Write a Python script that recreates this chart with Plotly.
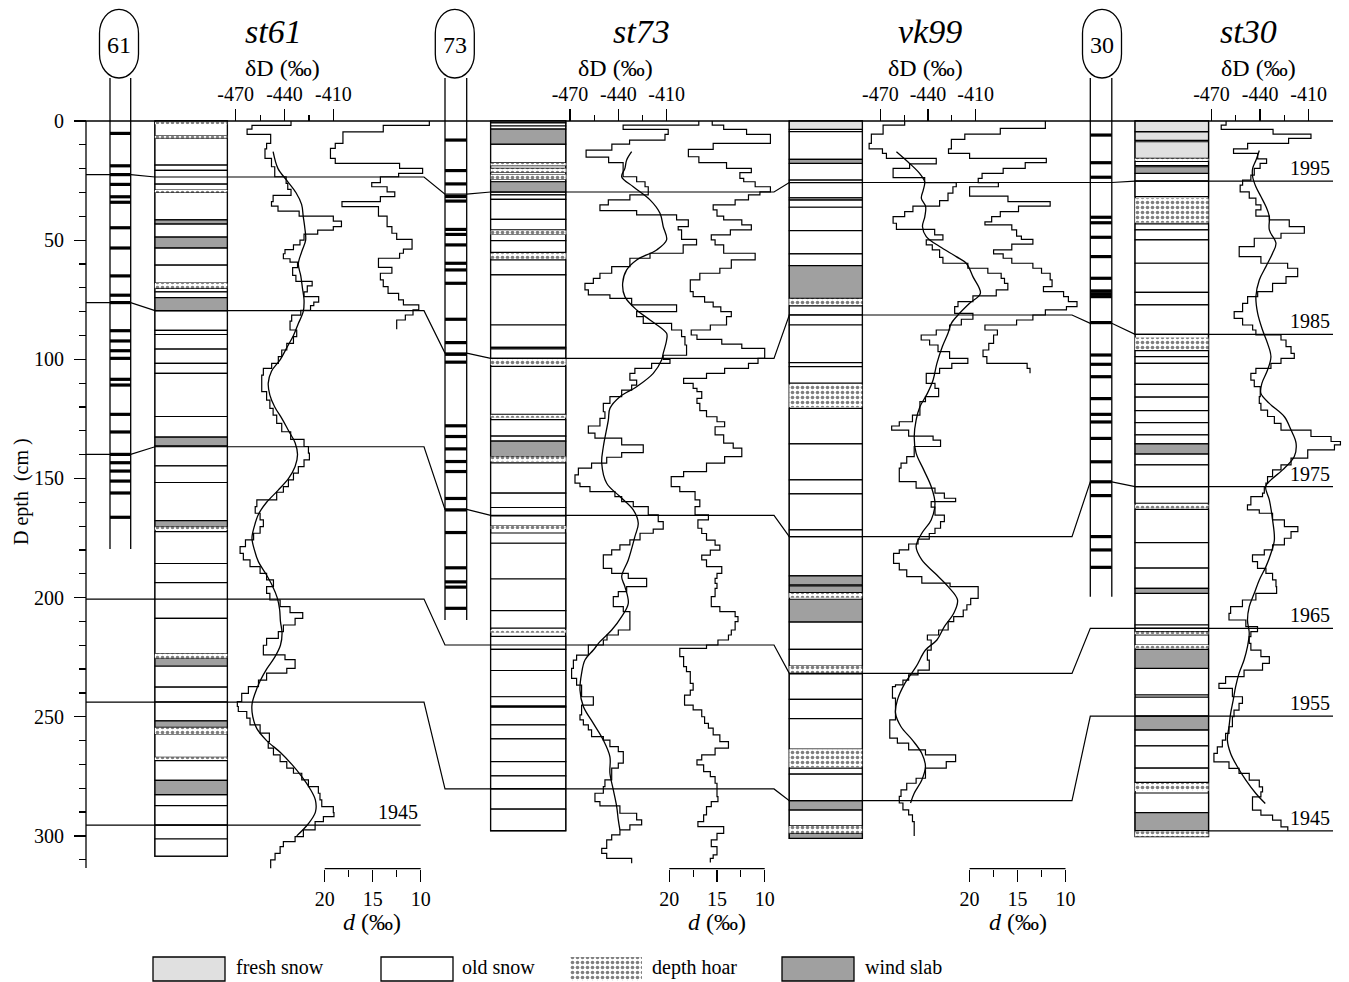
import plotly.graph_objects as go

W, H = 1349, 982
PY0, KY = 121.0, 2.383          # pixel row of depth 0 and pixels per cm
Y_TOP = -PY0 / KY
Y_BOT = (H - PY0) / KY
FONT = "Liberation Serif"

# ------------------------------------------------------------------ data
SITES = ["st61", "st73", "vk99", "st30"]
DD_TICKS = [-470, -440, -410]
DD_TICKTEXT = ["-470", "-440", "-410"]
DD_MINOR = [-455, -425]
D_TICKS = [20, 15, 10]
D_MINOR = [17.5, 12.5]
DEPTH_TICKS = [0, 50, 100, 150, 200, 250, 300]
DEPTH_MINOR = [10, 20, 30, 40, 60, 70, 80, 90, 110, 120, 130, 140, 160, 170, 180, 190,
               210, 220, 230, 240, 260, 270, 280, 290, 310]

# dated horizons: depth at st61 core, st61 strat, st73 core, st73 strat, vk99, st30 core, st30 strat
YEARS = ["1995", "1985", "1975", "1965", "1955"]
HORIZON_1995 = [22.5, 23.5, 30.7, 29.8, 25.8, 25.8, 25.2]
HORIZON_1985 = [76.2, 79.6, 97.4, 99.6, 81.4, 84.9, 89.5]
HORIZON_1975 = [139.9, 136.7, 163.0, 165.5, 174.4, 151.4, 153.4]
HORIZON_1965 = [200.6, 200.6, 219.9, 219.9, 231.8, 212.9, 212.9]
HORIZON_1955 = [243.9, 243.9, 280.3, 280.3, 285.2, 249.7, 249.7]
HORIZON_1945_ST61 = 295.5
HORIZON_1945_ST30 = 297.9

# core dark bands (cm)
ST61_CORE_BARS = [5.2, 18.8, 22.5, 26.6, 31.8, 34.1, 44.8, 53.3, 65, 73.1, 76.2, 88, 92.3, 96.4,
                  99.6, 108.4, 110.8, 123.1, 130.5, 139.9, 143.4, 146.9, 151.1, 156.1, 166.3]
ST73_CORE_BARS = [8, 20.8, 26.4, 31.7, 33.6, 45.5, 47.6, 52, 59.7, 62.5, 68.1, 83.2, 93, 97.9,
                  101.2, 127.9, 132.4, 137.6, 142.9, 147.1, 158.4, 163.2, 172.7, 187.5, 193.4,
                  195.6, 204.5]
ST30_CORE_BARS = [5.9, 17.5, 23.6, 40.4, 42.7, 48.8, 56.9, 66, 71.3, 72.5, 73.7, 84.6, 98.2,
                  102.1, 107.3, 116.5, 123.1, 126.3, 133.2, 143, 151.4, 157.2, 174.4, 180, 187.3]
CORE_LENGTH = {"st61": 179.6, "st73": 209.4, "st30": 199.6}

# stratigraphy: (top, bottom, type)  F fresh snow, O old snow, H depth hoar, W wind slab
ST61_LAYERS = [(0, 6.2, "O"), (0.4, 1.4, "H"), (6.2, 7.2, "H"), (7.2, 18.5, "O"), (18.5, 20.7, "O"),
               (20.7, 26.5, "O"), (26.5, 29.0, "O"), (29.0, 30.0, "H"), (30.0, 41.5, "O"),
               (41.5, 43.2, "W"), (43.2, 48.7, "O"), (48.7, 53.2, "W"), (53.2, 60.5, "O"),
               (60.5, 68.0, "O"), (68.0, 70.2, "H"), (70.2, 71.7, "O"), (71.7, 74.1, "O"),
               (74.1, 79.6, "W"), (79.6, 87.9, "O"), (87.9, 89.6, "O"), (89.6, 95.7, "O"),
               (95.7, 101.7, "O"), (101.7, 105.9, "O"), (105.9, 124.0, "O"), (124.0, 132.7, "O"),
               (132.7, 136.3, "W"), (136.3, 144.7, "O"), (144.7, 151.7, "O"), (151.7, 167.7, "O"),
               (167.7, 170.3, "W"), (170.3, 171.5, "H"), (172.3, 185.7, "O"), (185.7, 193.7, "O"),
               (193.7, 208.7, "O"), (208.7, 223.6, "O"), (223.6, 225.4, "H"), (225.4, 228.7, "W"),
               (228.7, 237.6, "O"), (237.6, 243.8, "O"), (243.8, 251.7, "O"), (251.7, 254.4, "W"),
               (254.6, 257.2, "H"), (257.2, 267.0, "O"), (267.0, 268.2, "H"), (268.4, 276.7, "O"),
               (276.7, 282.7, "W"), (282.7, 287.3, "O"), (287.3, 295.5, "O"), (295.5, 301.3, "O"),
               (301.3, 308.5, "O")]
ST73_LAYERS = [(0, 0.8, "O"), (0.8, 2.1, "O"), (2.1, 3.4, "O"), (3.4, 9.7, "W"), (9.7, 17.6, "O"),
               (17.6, 18.7, "H"), (18.7, 19.9, "O"), (19.9, 21.5, "H"), (21.5, 22.5, "O"),
               (22.5, 24.4, "H"), (24.4, 25.5, "O"), (25.5, 29.8, "W"), (29.8, 31.0, "O"),
               (31.0, 32.9, "O"), (32.9, 41.3, "O"), (41.3, 45.7, "O"), (45.9, 47.6, "H"),
               (47.6, 50.2, "O"), (50.2, 55.1, "O"), (55.5, 57.8, "H"), (58.3, 64.6, "O"),
               (64.6, 85.6, "O"), (85.6, 95.0, "O"), (95.0, 95.6, "O"), (95.6, 99.6, "O"),
               (99.6, 102.4, "H"), (103.0, 123.1, "O"), (123.3, 124.5, "H"), (125.3, 132.2, "O"),
               (132.2, 134.3, "O"), (134.3, 140.8, "W"), (140.8, 142.9, "H"), (143.5, 156.2, "O"),
               (156.2, 162.2, "O"), (162.2, 165.7, "O"), (165.7, 170.0, "O"), (170.0, 171.2, "H"),
               (172.9, 177.2, "O"), (177.2, 192.2, "O"), (192.2, 205.5, "O"), (205.5, 212.8, "O"),
               (213.6, 214.8, "H"), (216.3, 221.7, "O"), (221.7, 230.6, "O"), (230.6, 241.6, "O"),
               (241.6, 245.5, "O"), (245.5, 246.0, "O"), (246.0, 253.4, "O"), (253.4, 259.3, "O"),
               (259.3, 268.8, "O"), (268.8, 274.8, "O"), (274.8, 280.3, "O"), (280.3, 288.8, "O"),
               (288.8, 297.8, "O")]
VK99_LAYERS = [(0, 3.5, "F"), (3.5, 4.5, "O"), (4.5, 16.1, "O"), (16.1, 17.8, "W"), (17.8, 24.8, "O"),
               (24.8, 25.9, "O"), (25.9, 32.2, "O"), (32.2, 33.1, "W"), (33.1, 36.2, "O"),
               (36.2, 46.0, "O"), (46.0, 55.8, "O"), (55.8, 60.7, "O"), (60.7, 74.4, "W"),
               (74.6, 77.2, "H"), (77.6, 81.4, "O"), (81.4, 85.6, "O"), (85.6, 101.4, "O"),
               (101.4, 103.1, "O"), (103.1, 110.0, "O"), (110.6, 120.1, "H"), (120.6, 135.5, "O"),
               (135.5, 150.6, "O"), (150.6, 156.5, "O"), (156.5, 171.6, "O"), (171.6, 174.4, "O"),
               (174.4, 190.9, "O"), (190.9, 194.7, "W"), (195.1, 197.9, "W"), (198.1, 200.1, "H"),
               (200.7, 210.2, "W"), (210.2, 221.7, "O"), (221.7, 228.7, "O"), (228.7, 231.8, "H"),
               (232.0, 242.7, "O"), (242.7, 250.8, "O"), (250.8, 263.6, "O"), (263.6, 271.2, "H"),
               (271.6, 274.1, "O"), (274.1, 285.2, "O"), (285.2, 289.1, "W"), (289.1, 295.8, "O"),
               (295.8, 298.9, "H"), (298.9, 301.0, "W")]
ST30_LAYERS = [(0, 4.5, "F"), (4.6, 8.1, "F"), (8.7, 15.7, "F"), (15.7, 16.6, "H"), (17.0, 18.7, "O"),
               (19.2, 22.0, "W"), (22.0, 25.2, "O"), (25.2, 31.7, "O"), (32.4, 42.7, "H"),
               (43.2, 45.7, "O"), (45.7, 49.9, "O"), (49.9, 59.7, "O"), (59.7, 71.9, "O"),
               (71.9, 77.2, "O"), (77.2, 89.5, "O"), (90.8, 96.1, "H"), (96.4, 98.9, "O"),
               (98.9, 101.7, "O"), (101.7, 110.5, "O"), (110.5, 115.9, "O"), (115.9, 121.5, "O"),
               (121.5, 126.6, "O"), (126.6, 131.7, "O"), (131.7, 135.5, "O"), (135.5, 139.7, "W"),
               (139.7, 144.3, "O"), (144.3, 153.4, "O"), (153.4, 160.4, "O"), (161.0, 162.5, "H"),
               (163.0, 176.9, "O"), (176.9, 187.6, "O"), (187.6, 196.1, "O"), (196.1, 198.2, "W"),
               (198.2, 211.5, "O"), (211.5, 212.9, "O"), (212.9, 214.3, "O"), (214.3, 215.4, "H"),
               (215.7, 219.9, "O"), (219.9, 221.3, "H"), (221.7, 229.7, "W"), (229.7, 240.8, "O"),
               (241.8, 249.7, "O"), (249.7, 255.5, "W"), (255.5, 262.2, "O"), (262.2, 271.6, "O"),
               (271.6, 277.5, "O"), (277.8, 281.2, "H"), (282.0, 290.2, "O"), (290.2, 297.8, "W"),
               (298.2, 300.3, "H")]
COLUMN_BOTTOM = {"st61": 308.5, "st73": 297.8, "vk99": 301.0, "st30": 300.3}

# deltaD step profiles: (top depth cm, value permil)
ST61_DD = [(0, -436), (1.8, -460), (3.4, -463), (5.6, -448.5), (9.4, -451), (11.7, -452), (15.7, -448),
           (19.2, -446), (23.4, -439), (26.2, -438), (28.7, -436), (31.2, -447), (33.8, -448),
           (35.7, -444), (37.8, -431), (39.9, -410), (42, -405), (44.3, -410), (45.8, -419.6),
           (47.5, -428), (50, -430.5), (52, -434.5), (54, -439.7), (55.7, -440.7), (57.8, -436.6),
           (59.2, -432), (61.5, -435), (64.8, -433), (67.3, -423), (69.2, -426), (71.7, -428),
           (73.7, -419), (76, -422), (77.5, -424), (79.5, -430), (81.5, -435.6), (84, -436.6),
           (87.7, -432.5), (90.5, -434.5), (93.3, -438.6), (96.1, -441.7), (98.9, -443.8),
           (101.7, -447.9), (103.8, -453), (106.6, -454), (110.1, -454), (113.6, -451), (117.1, -449),
           (120.6, -447), (123.4, -444.8), (126.9, -441.7), (130.4, -436.2), (133.6, -428),
           (136.6, -425.3), (139.4, -424.7), (142.2, -428), (145, -431.5), (147.8, -434.5),
           (150.6, -437.6), (153.4, -440.7), (155.8, -444.8), (159, -457), (161.8, -458),
           (164.6, -455), (167.4, -453), (170.2, -455), (173, -459), (175.8, -464), (178.6, -467.3),
           (181.4, -465.3), (184.2, -461.2), (187, -455), (189.8, -451), (192.6, -446.8),
           (195.4, -451), (198.2, -449), (201, -442.7), (203.8, -436.6), (206.3, -428.8),
           (208.7, -433.5), (211.5, -440.7), (214.3, -443.8), (217.1, -451), (220, -453),
           (224, -439.7), (226, -433.5), (229.7, -438.6), (231.7, -451), (234.6, -456),
           (237.4, -462.2), (240.2, -466.3), (243.6, -469), (245.7, -468.4), (247.8, -463.2),
           (250.6, -461.2), (253.4, -455), (256.9, -449.3), (260.4, -450), (263.2, -446.8),
           (266, -442.7), (268.8, -438.6), (271.6, -434.5), (273.7, -429.4), (276.5, -425.3),
           (279.3, -419.2), (282.1, -418.2), (284.9, -417.1), (287.7, -410), (290.2, -409.6),
           (291.9, -416.1), (294, -421.2), (297.5, -428.4), (300.3, -433.5), (302.4, -440.7),
           (304.5, -442.7), (307.3, -445.8), (310.1, -448.5)]
ST61_DD_END = 313.6
ST73_DD = [(0, -390), (1.7, -437), (3.5, -409), (5.6, -411), (8, -433), (9.7, -444), (12.2, -460),
           (15.2, -446), (17.5, -437), (23.4, -428.6), (25.5, -423.4), (27.6, -421.4), (31, -432.8),
           (33.1, -446.2), (35.2, -451.4), (37.6, -428.6), (39.4, -403.8), (41.5, -396.5),
           (44.3, -402.8), (45.7, -400.7), (49.7, -391.4), (52, -399.7), (55.5, -420.3),
           (57.6, -432.8), (61.1, -444.1), (63.9, -451.4), (66, -455.5), (68.1, -460.7),
           (70.9, -458.6), (73, -445.2), (74.4, -431.7), (77.2, -403.8), (80, -428.6),
           (82.1, -424.5), (84.9, -406.9), (87.7, -400.7), (90.5, -398.6), (94, -397.6),
           (98.3, -412.1), (100, -407.9), (101.7, -419.3), (103.8, -429.7), (105.9, -432.8),
           (108.7, -428.6), (110.8, -431.7), (112.9, -437.9), (115.7, -445.2), (118.5, -449.3),
           (122, -448.3), (124.8, -451.4), (128, -458.6), (131, -454.5), (133.1, -437.9),
           (135.9, -424.5), (139.2, -437.9), (141.1, -447.2), (143.6, -456.6), (145.7, -464.8),
           (148.5, -466.9), (152, -463.8), (153.4, -457.6), (155.5, -442.1), (157.6, -437.9),
           (159.7, -430.7), (161.8, -421.4), (165.3, -415.2), (168.1, -412.1), (171.3, -418.3),
           (173, -426.5), (175.8, -432.8), (177.9, -439), (180, -444.1), (182.1, -449.3),
           (187.7, -444.1), (189.8, -433.8), (191.9, -422.4), (195.4, -434.8), (197.5, -440),
           (199.6, -443.1), (203.8, -436.9), (205.9, -432.8), (213.6, -440), (215.7, -447),
           (217.8, -449.3), (219.9, -458.6), (224.1, -465.9), (226.2, -467.9), (229.7, -469),
           (233.9, -465.9), (236.7, -462.8), (241.6, -455.5), (245.1, -462.8), (249.2, -463.8),
           (251.3, -461.7), (253.4, -458.6), (255.5, -456.6), (258.3, -449.3), (259.8, -445.2),
           (262.5, -440), (264.6, -436.9), (269.5, -440), (271.6, -444.1), (276.5, -448.3),
           (279.3, -449.3), (282.1, -454.5), (285.6, -451.4), (287.4, -439), (290.5, -428.6),
           (293.3, -425.5), (295.4, -432.8), (297.5, -439), (299.6, -444.1), (301.7, -447.2),
           (305.2, -450.3), (307.3, -447.2), (309.4, -431.7)]
ST73_DD_END = 311.5
VK99_DD = [(0, -454.7), (1.7, -468.3), (5.5, -475.7), (9.4, -477.1), (11.7, -468.7), (13.6, -466.2),
           (15.7, -434.8), (18, -451.6), (19.9, -462), (23.8, -442.1), (25.9, -422.2), (27.6, -424.3),
           (30.3, -427.4), (33.4, -432.7), (35.7, -449.5), (38, -454.7), (40.1, -462), (42.9, -459.9),
           (45.5, -435.8), (47.8, -430.6), (49.9, -441.1), (52, -437.3), (54.1, -432.7),
           (57.2, -430.6), (59.7, -414.9), (61.8, -402.3), (63.9, -393.9), (66, -391.8),
           (68.1, -389.7), (70.9, -397), (73.4, -411.7), (75.8, -421.1), (77.9, -423.2),
           (80.7, -411.7), (83.2, -419), (85.6, -426.4), (87.7, -434.8), (89.8, -444.3),
           (91.9, -439), (94, -433.7), (96.8, -426.4), (99.6, -414.9), (101.7, -425),
           (103.8, -432.7), (105.9, -441.1), (110.1, -435.6), (112.2, -433.3), (115.7, -441.6),
           (117.8, -445.1), (123.4, -449.8), (126.2, -458.1), (128, -462.9), (129.7, -452.2),
           (132.2, -436.8), (133.9, -432.1), (136.6, -448.7), (140.8, -453.4), (143.6, -457),
           (145.7, -458.1), (151.3, -447.5), (154.1, -435.6), (156.2, -429.7), (158.3, -422.6),
           (159.7, -438), (162, -435.6), (165.4, -429.7), (168.1, -432.1), (170.9, -435.6),
           (173.1, -439.2), (175.5, -446.3), (177.5, -452.2), (180, -458.1), (181.4, -461.7),
           (185.6, -458.1), (188.4, -453.4), (191.2, -443.9), (193.9, -426.1), (195.4, -408.4),
           (200.3, -413.1), (203, -415.5), (205.2, -417.8), (208, -423.8), (210.1, -427.3),
           (213.6, -433.3), (215.7, -440.4), (217.8, -438), (222, -440.4), (226.2, -439.2),
           (230.4, -446.3), (232.4, -452.2), (234.6, -455.8), (236.6, -460.5), (237.4, -462.4),
           (242.2, -460.5), (251.3, -464.1), (259, -459.3), (261.1, -452.2), (263.9, -441.6),
           (266, -422.6), (268.8, -428.5), (271.6, -441.6), (275.8, -447.5), (277.9, -453.4),
           (280.7, -457), (283.4, -458.1), (286.2, -455.8), (289.1, -452.2), (291.2, -449.8),
           (294, -448.7)]
VK99_DD_END = 300.0
ST30_DD = [(0, -461), (1.7, -464), (3.5, -432), (5.5, -408.6), (7.3, -422.4), (9.4, -447.7),
           (11.7, -456.4), (13.6, -441.5), (15.9, -436), (17.8, -440), (19.9, -443.6), (22.7, -445.7),
           (24.8, -450.8), (26.9, -452.3), (29.7, -446.7), (32.4, -442.6), (35.2, -439.5),
           (37.3, -442.6), (39.9, -434.3), (41.5, -422), (44.3, -412.7), (47.1, -427.1),
           (49.2, -443.6), (52.7, -452.9), (56.9, -439.5), (59.7, -423), (61.8, -416.8),
           (65.3, -424), (68.1, -432.3), (71.6, -441.5), (73.7, -447.7), (76.5, -450.8), (80, -456),
           (82.8, -450.8), (85.6, -444.6), (87.7, -442.6), (89.8, -427.1), (91.9, -424),
           (94.7, -420.9), (97.5, -418.9), (99.6, -427.1), (101.7, -433.3), (103.8, -442.6),
           (105.9, -445.7), (108.7, -443.6), (111.5, -439.9), (115.7, -440.5), (118.5, -439.5),
           (121.3, -435.4), (124, -431.2), (126.9, -427.1), (129.7, -408.6), (132.4, -396.2),
           (134.5, -390.4), (135.9, -394.1), (138, -410.6), (141.5, -420.9), (144.3, -427.1),
           (146.4, -432.3), (149.2, -435.4), (152, -436.4), (153.4, -437.4), (156.2, -438.5),
           (157.6, -445.7), (161.1, -447.8), (163.2, -440.5), (164.6, -432.3), (167.4, -425),
           (170.2, -416.7), (172.3, -420.9), (175.1, -425), (177.9, -432.3), (180, -437.4),
           (182.1, -444.7), (184.9, -441.6), (187.7, -436.4), (189.8, -432.3), (192.6, -430.2),
           (195.4, -429.8), (198.2, -442.6), (201, -450.9), (203.8, -458.2), (206.6, -459.2),
           (209.4, -448.8), (212.2, -441.6), (214.3, -445.7), (216.4, -446.7), (219.2, -445.7),
           (222, -439.5), (224.8, -434.3), (227.6, -438.5), (230.4, -449.9), (233.2, -461.3),
           (236, -465.4), (238.1, -457.1), (241.6, -450.9), (244.4, -453), (247.2, -456.1),
           (250, -457.1), (254.2, -459.2), (257, -461.3), (259.8, -463.3), (262.6, -466.4),
           (265.4, -468.5), (268.9, -459.2), (271.7, -453), (273.8, -446.7), (276.6, -440.5),
           (279.4, -438.5), (281.5, -439.5), (283.6, -444.7), (289.2, -439.5), (291.3, -432.3),
           (293.4, -427.1), (296.2, -422.9)]
ST30_DD_END = 297.8

# smoothed deltaD curves: (depth cm, value permil)
ST61_SMOOTH = [(12.9, -447), (20, -444), (25, -438.5), (30, -433), (35, -429.5), (40, -428.5),
               (45, -427.5), (50, -427), (55, -429.5), (60, -431.5), (65, -430), (70, -429),
               (75, -428), (80, -428.5), (85, -431.5), (90, -434.5), (95, -438.5), (100, -442.5),
               (105, -448), (110, -450), (115, -449), (120, -446), (125, -441.5), (130, -437.5),
               (135, -433.5), (140, -432), (145, -433.5), (150, -437.5), (155, -444), (160, -451),
               (165, -456), (170, -458.5), (175, -460), (180, -458.5), (185, -456), (190, -451.5),
               (195, -447.5), (200, -444.5), (205, -443), (210, -442.5), (215, -441.5),
               (220, -442.5), (225, -446), (230, -451), (235, -455), (240, -458), (245, -460),
               (250, -459.5), (255, -457), (260, -451), (265, -442.5), (270, -435.5),
               (275, -429.5), (280, -424.5), (285, -421), (290, -421), (295, -425.5), (300, -432.5)]
ST73_SMOOTH = [(12.9, -431.7), (16.4, -434.8), (19.9, -435.9), (23.4, -437.9), (27.6, -430.7),
               (33.1, -420.3), (38.7, -414.1), (44.3, -412.1), (49.9, -410), (54.1, -416.2),
               (58.3, -428.6), (62.5, -434.8), (68.1, -437.3), (73.7, -435.9), (79.3, -428.6),
               (83.5, -420.3), (89.1, -410), (91.9, -410), (97.5, -412.1), (100.3, -413.1),
               (105.9, -418.3), (111.5, -428.6), (115.7, -439), (120.6, -445.2), (125.5, -446.2),
               (136.7, -449.3), (143.6, -450.3), (152, -447.2), (157.6, -439), (163.2, -430.7),
               (168.8, -427.6), (174.4, -429.7), (184.2, -433.8), (191.2, -437.9), (195.4, -435.9),
               (202.4, -433.8), (208, -437.9), (213.6, -444.1), (218.5, -451.4), (222, -455.5),
               (226.2, -460.7), (231.8, -462.8), (238.8, -463.8), (245.7, -461.7), (252.8, -455.5),
               (259.8, -449.3), (266.8, -445.2), (273.7, -445.2), (280.7, -443.1), (287.7, -441),
               (293.3, -440), (297.5, -439)]
VK99_SMOOTH = [(12.9, -459.9), (17.8, -451.6), (22, -445.3), (25.5, -442.1), (29, -443), (32.4, -444.2),
               (35.9, -441.5), (40.1, -442), (44.3, -443.5), (48.5, -441.1), (52.7, -432.7),
               (56.9, -422.2), (59.7, -415.9), (65.3, -411.7), (72.3, -407), (76.5, -413.8),
               (80.7, -420.1), (84.9, -425.3), (89.1, -427.4), (94.7, -431), (101.7, -434.4),
               (108.7, -436.8), (114.3, -440.4), (119.9, -445.1), (125.5, -447.5), (132.5, -448.7),
               (139.4, -447.5), (146.4, -442.7), (153.4, -438), (160.4, -435.6), (167.4, -438),
               (173, -443.9), (178.6, -447.5), (184.2, -443.9), (189.8, -435.6), (195.4, -427.3),
               (201, -421.4), (206.6, -423.8), (212.2, -429.7), (217.8, -434.4), (222, -441.6),
               (229, -447.5), (236, -454.6), (243, -459.3), (248.5, -460.5), (254.2, -457),
               (259.8, -449.8), (265.4, -443.9), (270.9, -441.6), (276.5, -443.9), (282.1, -448.7),
               (286.2, -451)]
ST30_SMOOTH = [(12.4, -440.5), (16.4, -442.5), (19.9, -444.6), (23.4, -444.6), (27.6, -442.6),
               (31.7, -439.5), (35.9, -436.4), (40.1, -434.3), (45.7, -434.3), (51.3, -430.2),
               (55.5, -432.3), (61.1, -436.4), (66.7, -440.5), (73.7, -442.6), (80.7, -441.5),
               (87.7, -438.5), (93.3, -435.4), (98.9, -433.3), (104.5, -435.4), (110.1, -438.9),
               (114.3, -439.5), (118.5, -434.3), (124.1, -425), (129.7, -420.9), (135.2, -417.8),
               (140.8, -418.9), (146.4, -426.1), (150.6, -433.3), (153.4, -436.6), (159, -434.3),
               (167.4, -432.3), (175.8, -431.2), (181.4, -433.3), (187, -436.4), (192.6, -440.5),
               (198.2, -443.6), (203.8, -446.7), (209.4, -447.8), (215, -446.7), (220.6, -447.8),
               (226.2, -449.9), (231.8, -453), (237.4, -455.1), (243, -456.6), (248.6, -458.2),
               (254.2, -459.2), (259.8, -460.2), (265.4, -458.2), (271, -454), (276.6, -448.8),
               (282.2, -442.6), (286.4, -436.8)]

# deuterium excess step profiles: (top depth cm, value permil)
ST61_D = [(0, 9.1), (1.8, 13.9), (4.6, 18.1), (9.4, 18.9), (11.5, 19.4), (15.7, 18.9), (17.8, 12.2),
          (19.9, 9.8), (22, 12.3), (23.4, 14.2), (25.9, 15.1), (27.6, 13.5), (29.7, 12.7),
          (31.7, 14.2), (33.8, 18.2), (35.9, 14.4), (39.9, 13.5), (44.3, 13), (47.1, 12.5),
          (49.7, 10.9), (53.8, 11.8), (55.5, 12.2), (57.6, 14.4), (61.4, 13), (63.9, 14.2),
          (66.7, 13.9), (69.5, 13.4), (72.3, 12.3), (75.1, 11.8), (77.2, 10.2), (79.3, 10.8),
          (81.4, 11.6), (83.5, 12.5)]
ST61_D_END = 87.4
ST73_D = [(0, 15.5), (1.7, 14.3), (3.5, 11.9), (5.6, 9.4), (9.4, 15.4), (11.9, 18), (15, 16.9),
          (17.5, 14), (19.9, 11.4), (21.7, 12.6), (24.1, 12.2), (25.5, 11), (27.6, 9.4), (29.7, 10.5),
          (31, 11.7), (33.1, 13.1), (35.2, 15.4), (37.3, 15), (39.9, 14.3), (41.5, 12.4),
          (43.6, 11.4), (45.7, 13.6), (47.8, 15.6), (49.9, 15.2), (52, 14.3), (55.5, 11),
          (58.3, 13.5), (61.8, 14.7), (63.9, 16.8), (66.7, 17.8), (71.6, 17.5), (73.7, 16.3),
          (76, 15.4), (78, 14.6), (80, 13.5), (82.1, 14), (85.6, 15.7), (87.7, 17.7), (89.8, 17.1),
          (91.6, 14.5), (93.6, 12.4), (95.4, 10), (99.6, 10.7), (101.7, 11.7), (103.8, 14.2),
          (105.9, 16.1), (108, 18.5), (110.1, 17.5), (112.2, 17.1), (113.6, 16.6), (116.4, 17.1),
          (118.5, 16.8), (121.5, 16.1), (124.1, 15), (126.2, 14.2), (128.3, 15.2), (131.7, 14.3),
          (135.2, 13.3), (137.3, 12.4), (140.8, 14.2), (143.6, 16.1), (147.1, 18.5), (149.2, 19.8),
          (153.4, 18.9), (155.5, 17.3), (159, 16.8), (161.8, 17.3), (165.3, 15.9), (167.4, 17),
          (170.9, 16.6), (173.1, 16.1), (175.9, 15.2), (178, 14.7), (180.1, 15.7), (182.2, 16.6),
          (184.2, 16.1), (187, 14.5), (189.8, 15), (191.9, 15.2), (194, 15), (196.1, 15.2),
          (199.6, 15.6), (203.8, 14.7), (205.9, 13.1), (208, 12.8), (210.1, 13.1), (213.6, 13.5),
          (215.7, 13.8), (217.8, 14.9), (219.9, 16.1), (221.3, 18.9), (224.8, 18.5), (229, 18.2),
          (231.1, 17.8), (236, 17.5), (238.8, 17.8), (240.9, 18.4), (245.1, 17.5), (247.1, 16.6),
          (250, 16.3), (252.8, 15.9), (254.8, 15.4), (257.6, 14.7), (260.4, 13.8), (263.2, 15.2),
          (266, 16.6), (268.1, 17.1), (270.2, 16.4), (273, 15.7), (275.1, 15.2), (277.9, 15),
          (283.5, 14.9), (285.6, 15.6), (287.7, 16.1), (291.2, 16.4), (294, 17), (296.1, 14.3),
          (298.9, 15), (301.7, 15.6), (304.5, 15), (308, 15.4), (309.4, 15.7)]
ST73_D_END = 311.2
VK99_D = [(0, 12.1), (3.1, 16.8), (5.5, 20.5), (7.7, 21.9), (11.7, 22.2), (13.6, 20), (15.7, 12),
          (17.5, 14.2), (19.9, 16.5), (22, 18.7), (24.1, 19.1), (25.9, 17), (27.6, 20), (31.5, 16),
          (33.8, 11.6), (35.7, 14.9), (38, 16.8), (40.1, 17.7), (42.3, 18.4), (43.6, 15.6),
          (45.7, 15.1), (48.3, 14.6), (49.7, 13.4), (51.7, 15.6), (54.1, 17.5), (55.8, 16.5),
          (57.6, 15.6), (59.7, 13.4), (61.8, 12.5), (63.9, 11.6), (66.7, 11.4), (69.5, 12.3),
          (71.6, 10.2), (73.7, 9.7), (75.8, 8.8), (77.9, 9.9), (79.3, 12.1), (81.4, 13.4),
          (83.5, 15.1), (85.6, 18.4), (87.7, 17.1), (89.8, 17.5), (93.3, 18), (96.1, 18.6),
          (98.9, 18.2), (101.7, 14), (103.8, 13.7)]
VK99_D_END = 105.9

LEGEND_LABELS = ["fresh snow", "old snow", "depth hoar", "wind slab"]
LEGEND_TYPES = ["F", "O", "H", "W"]

# ------------------------------------------------------------------ layout constants (pixels)
XA = 86
COL = {  # core left/right, strat left/right
    "st61": dict(cl=110, cr=130.7, sl=155, sr=227.3, cap=119),
    "st73": dict(cl=445, cr=466.7, sl=490.7, sr=565.7, cap=454.8),
    "vk99": dict(sl=789.3, sr=862.3),
    "st30": dict(cl=1090.3, cr=1111.8, sl=1135.1, sr=1208.5, cap=1102),
}
T1, T2, T3, XEND = 424, 774, 1072, 1333
DD_AX = {"st61": (235.7, 1.627), "st73": (570.0, 1.61), "vk99": (880.4, 1.587), "st30": (1211.5, 1.62)}
D_AX = {"st61": (324.7, 9.6), "st73": (669.3, 9.54), "vk99": (969.6, 9.59)}
FILL = {"F": "#e0e0e0", "O": "white", "W": "#a0a0a0", "H": "white"}
LEGEND_X = [153, 381, 570, 782]
LEGEND_TX = [234, 460, 650, 863]


def pap(py):
    return 1 - py / H


fig = go.Figure()
layout = dict(
    width=W, height=H, margin=dict(l=0, r=0, t=0, b=0),
    paper_bgcolor="white", plot_bgcolor="white", showlegend=False, barmode="overlay",
    font=dict(family=FONT, color="black"),
    xaxis=dict(range=[0, W], visible=False, fixedrange=True),
    yaxis=dict(range=[Y_BOT, Y_TOP], anchor="free", position=XA / W, side="left",
               showgrid=False, zeroline=False, showline=False,
               tickmode="array", tickvals=DEPTH_TICKS, ticks="outside", ticklen=12,
               tickwidth=1.2, tickcolor="black", ticklabelstandoff=6,
               tickfont=dict(family=FONT, size=20, color="black"),
               minor=dict(tickvals=DEPTH_MINOR, ticks="outside", ticklen=7, tickwidth=1.2,
                          tickcolor="black")),
)

axis_of_dd, axis_of_d = {}, {}
n = 2
for s in SITES:
    p, k = DD_AX[s]
    name = f"x{n}"
    axis_of_dd[s] = name
    layout[f"xaxis{n}"] = dict(
        range=[-470 - p / k, -470 + (W - p) / k], overlaying="x", anchor="free",
        position=pap(PY0), side="top", showgrid=False, zeroline=False, showline=False,
        tickmode="array", tickvals=DD_TICKS, ticktext=DD_TICKTEXT, ticks="outside", ticklen=12,
        tickwidth=1.2, tickcolor="black", tickfont=dict(family=FONT, size=20, color="black"),
        minor=dict(tickvals=DD_MINOR, ticks="outside", ticklen=6, tickwidth=1.2, tickcolor="black"))
    n += 1
D_AXIS_PY = 868.7
for s in ["st61", "st73", "vk99"]:
    p, k = D_AX[s]
    name = f"x{n}"
    axis_of_d[s] = name
    layout[f"xaxis{n}"] = dict(
        range=[20 + p / k, 20 - (W - p) / k], overlaying="x", anchor="free",
        position=pap(D_AXIS_PY), side="bottom", showgrid=False, zeroline=False, showline=False,
        tickmode="array", tickvals=D_TICKS, ticks="outside", ticklen=12, tickwidth=1.2,
        tickcolor="black", tickfont=dict(family=FONT, size=20, color="black"),
        minor=dict(tickvals=D_MINOR, ticks="outside", ticklen=7, tickwidth=1.2, tickcolor="black"))
    n += 1

# ------------------------------------------------------------------ stratigraphy columns (bars)
def add_bars(lefts, rights, tops, bots, color, border, pattern=None):
    if not tops:
        return
    marker = dict(color=color, line=dict(color="black", width=border))
    if pattern:
        marker["pattern"] = dict(shape=".", fgcolor="black", bgcolor="white", size=5, solidity=0.42)
    fig.add_trace(go.Bar(
        orientation="h", y=[(a + b) / 2 for a, b in zip(tops, bots)],
        width=[b - a for a, b in zip(tops, bots)], base=lefts,
        x=[r - l for l, r in zip(lefts, rights)], marker=marker, hoverinfo="skip",
        xaxis="x", yaxis="y"))


STRAT = {"st61": ST61_LAYERS, "st73": ST73_LAYERS, "vk99": VK99_LAYERS, "st30": ST30_LAYERS}
for s in SITES:
    c = COL[s]
    add_bars([c["sl"]], [c["sr"]], [0], [COLUMN_BOTTOM[s]], "white", 1.5)
for t in ["O", "F", "W", "H"]:
    L, R, T, B = [], [], [], []
    for s in SITES:
        c = COL[s]
        for (a, b, typ) in STRAT[s]:
            if typ == t:
                L.append(c["sl"]); R.append(c["sr"]); T.append(a); B.append(b)
    add_bars(L, R, T, B, FILL[t], 0 if t == "H" else 1.2, pattern=(t == "H"))

# legend boxes
LEG_TOP = (957 - PY0) / KY
LEG_BOT = (981 - PY0) / KY
for x0, t in zip(LEGEND_X, LEGEND_TYPES):
    add_bars([x0], [x0 + 72], [LEG_TOP], [LEG_BOT], FILL[t], 0 if t == "H" else 1.3,
             pattern=(t == "H"))

# ------------------------------------------------------------------ cores
CORE_BARS = {"st61": ST61_CORE_BARS, "st73": ST73_CORE_BARS, "st30": ST30_CORE_BARS}
CORE_TOP = (78 - PY0) / KY
for s in ["st61", "st73", "st30"]:
    c = COL[s]
    fig.add_trace(go.Scatter(
        x=[c["cl"], c["cl"], None, c["cr"], c["cr"]],
        y=[CORE_TOP, CORE_LENGTH[s], None, CORE_TOP, CORE_LENGTH[s]],
        mode="lines", line=dict(color="black", width=1.3), hoverinfo="skip"))
    xs, ys = [], []
    for d in CORE_BARS[s]:
        xs += [c["cl"], c["cr"], None]
        ys += [d, d, None]
    fig.add_trace(go.Scatter(x=xs, y=ys, mode="lines", line=dict(color="black", width=3.2),
                             hoverinfo="skip"))

# ------------------------------------------------------------------ dated horizons
HX = [XA, COL["st61"]["cr"], COL["st61"]["sl"], T1, COL["st73"]["cl"], COL["st73"]["cr"],
      COL["st73"]["sl"], T2, COL["vk99"]["sl"], T3, COL["st30"]["cl"], COL["st30"]["cr"],
      COL["st30"]["sl"], XEND]
HORIZONS = [HORIZON_1995, HORIZON_1985, HORIZON_1975, HORIZON_1965, HORIZON_1955]
for hz in HORIZONS:
    a, b, c3, e, f, g, h = hz
    fig.add_trace(go.Scatter(x=HX, y=[a, a, b, b, c3, c3, e, e, f, f, g, g, h, h], mode="lines",
                             line=dict(color="black", width=1.2), hoverinfo="skip"))
fig.add_trace(go.Scatter(x=[XA, 420.7], y=[HORIZON_1945_ST61] * 2, mode="lines",
                         line=dict(color="black", width=1.2), hoverinfo="skip"))
fig.add_trace(go.Scatter(x=[COL["st30"]["sr"], XEND], y=[HORIZON_1945_ST30] * 2, mode="lines",
                         line=dict(color="black", width=1.2), hoverinfo="skip"))

# ------------------------------------------------------------------ profiles
def step(pairs, end, axis):
    ys = [p[0] for p in pairs] + [end]
    xs = [p[1] for p in pairs] + [pairs[-1][1]]
    fig.add_trace(go.Scatter(x=xs, y=ys, xaxis=axis, yaxis="y", mode="lines",
                             line=dict(color="black", width=1.2, shape="vh"), hoverinfo="skip"))


def smooth(pairs, axis):
    fig.add_trace(go.Scatter(x=[p[1] for p in pairs], y=[p[0] for p in pairs], xaxis=axis,
                             yaxis="y", mode="lines",
                             line=dict(color="black", width=1.3, shape="spline", smoothing=1.0),
                             hoverinfo="skip"))


step(ST61_DD, ST61_DD_END, axis_of_dd["st61"])
step(ST73_DD, ST73_DD_END, axis_of_dd["st73"])
step(VK99_DD, VK99_DD_END, axis_of_dd["vk99"])
step(ST30_DD, ST30_DD_END, axis_of_dd["st30"])
smooth(ST61_SMOOTH, axis_of_dd["st61"])
smooth(ST73_SMOOTH, axis_of_dd["st73"])
smooth(VK99_SMOOTH, axis_of_dd["vk99"])
smooth(ST30_SMOOTH, axis_of_dd["st30"])
step(ST61_D, ST61_D_END, axis_of_d["st61"])
step(ST73_D, ST73_D_END, axis_of_d["st73"])
step(VK99_D, VK99_D_END, axis_of_d["vk99"])

# ------------------------------------------------------------------ shapes
shapes = [
    dict(type="line", xref="x", yref="y", x0=74, x1=XEND, y0=0, y1=0,
         line=dict(color="black", width=1.3)),
    dict(type="line", xref="x", yref="y", x0=XA, x1=XA, y0=0, y1=(868 - PY0) / KY,
         line=dict(color="black", width=1.3)),
]
for s in ["st61", "st73", "vk99"]:
    shapes.append(dict(type="line", xref=axis_of_d[s], yref="y", x0=20, x1=10,
                       y0=(D_AXIS_PY - PY0) / KY, y1=(D_AXIS_PY - PY0) / KY,
                       line=dict(color="black", width=1.3)))


def capsule(cx, rx=19.5, yt=9.3, yb=78, ry=24):
    k = 0.5523
    L, R = cx - rx, cx + rx

    def P(x, y):
        return f"{x:.2f},{pap(y):.5f}"
    return ("M " + P(L, yt + ry) + " C " + P(L, yt + ry - k * ry) + " " + P(cx - k * rx, yt) + " "
            + P(cx, yt) + " C " + P(cx + k * rx, yt) + " " + P(R, yt + ry - k * ry) + " "
            + P(R, yt + ry) + " L " + P(R, yb - ry) + " C " + P(R, yb - ry + k * ry) + " "
            + P(cx + k * rx, yb) + " " + P(cx, yb) + " C " + P(cx - k * rx, yb) + " "
            + P(L, yb - ry + k * ry) + " " + P(L, yb - ry) + " Z")


for s in ["st61", "st73", "st30"]:
    shapes.append(dict(type="path", xref="x", yref="paper", path=capsule(COL[s]["cap"]),
                       line=dict(color="black", width=1.3), fillcolor="white"))
layout["shapes"] = shapes

# ------------------------------------------------------------------ text
ann = []


def text(x, py, t, size, xanchor="center", angle=0):
    ann.append(dict(x=x, y=pap(py), xref="x", yref="paper", text=t, showarrow=False,
                    xanchor=xanchor, yanchor="middle", textangle=angle,
                    font=dict(family=FONT, size=size, color="black")))


for s, cx in zip(SITES, [273, 641, 930, 1248]):
    text(cx, 31, f"<i>{s}</i>", 34)
for cx in [282, 615, 925, 1258]:
    text(cx, 68, "δD (‰)", 24)
for cx in [372, 717, 1018]:
    text(cx, 922, "<i>d</i> (‰)", 24)
for s in ["st61", "st73", "st30"]:
    text(COL[s]["cap"], 45, s[2:], 24)
text(22, 492, "D epth  (cm )", 20, angle=-90)
for yr, hz in zip(YEARS, HORIZONS):
    ann.append(dict(x=1332, y=hz[6], xref="x", yref="y", text=yr, showarrow=False,
                    xanchor="right", yanchor="bottom", yshift=0,
                    font=dict(family=FONT, size=20, color="black")))
ann.append(dict(x=1332, y=HORIZON_1945_ST30, xref="x", yref="y", text="1945", showarrow=False,
                xanchor="right", yanchor="bottom", font=dict(family=FONT, size=20, color="black")))
ann.append(dict(x=420, y=HORIZON_1945_ST61, xref="x", yref="y", text="1945", showarrow=False,
                xanchor="right", yanchor="bottom", font=dict(family=FONT, size=20, color="black")))
for tx, lab in zip(LEGEND_TX, LEGEND_LABELS):
    text(tx, 967, lab, 20, xanchor="left")
layout["annotations"] = ann

fig.update_layout(**layout)
fig.write_html("out.html", config={"displayModeBar": False, "staticPlot": True})

# remove the browser's default page margin so the figure fills the window exactly
with open("out.html", encoding="utf-8") as fh:
    page = fh.read()
page = page.replace("<head>", "<head><style>html,body{margin:0;padding:0;overflow:hidden;}</style>", 1)
with open("out.html", "w", encoding="utf-8") as fh:
    fh.write(page)
